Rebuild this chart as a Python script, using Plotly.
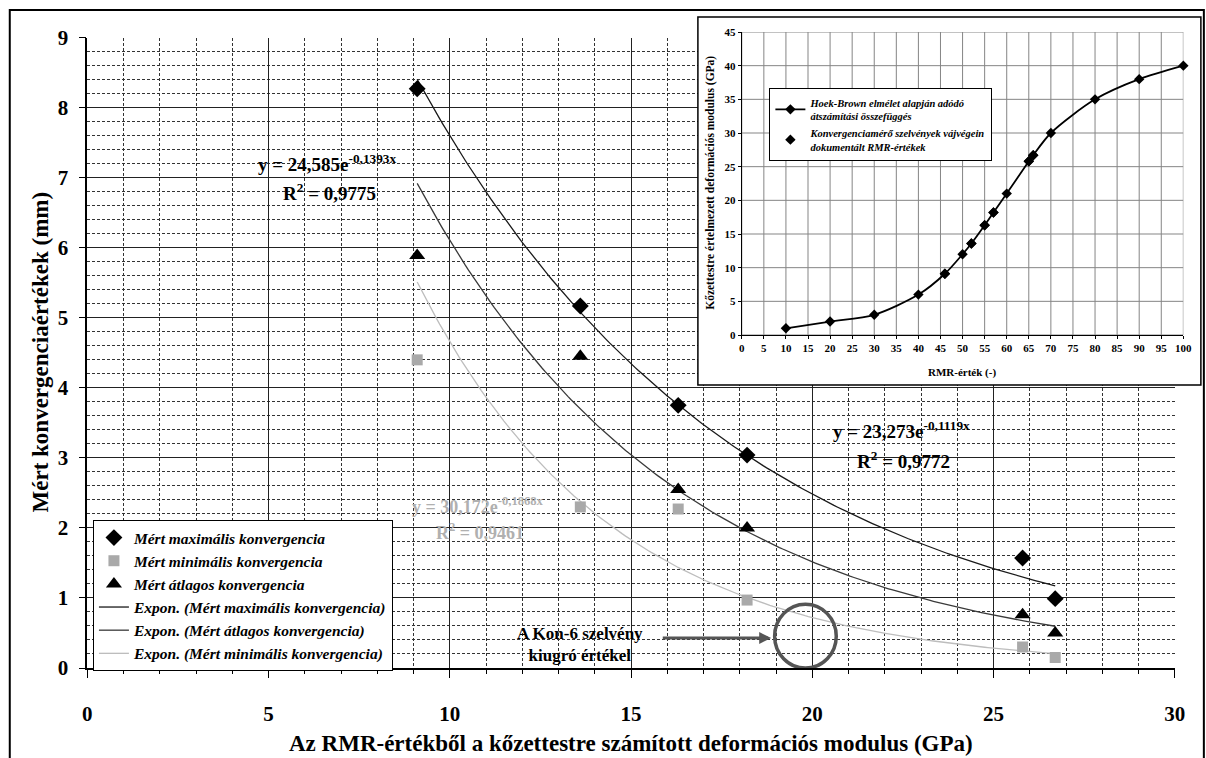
import numpy as np
import plotly.graph_objects as go

# Deformation modulus of the rock mass computed from RMR (GPa), one per section
modulus = [9.1, 13.6, 16.3, 18.2, 25.8, 26.7]
# Measured convergence values (mm)
conv_max = [8.27, 5.17, 3.75, 3.04, 1.57, 0.99]
conv_min = [4.40, 2.30, 2.27, 0.97, 0.30, 0.15]
conv_avg = [5.89, 4.45, 2.55, 2.00, 0.76, 0.50]

# Exponential trendlines y = a * exp(b * x), with R^2
fit_max = (23.273, -0.1119, 0.9772)
fit_avg = (24.585, -0.1393, 0.9775)
fit_min = (30.172, -0.1868, 0.9461)

# Inset: Hoek-Brown RMR -> deformation modulus relation
rmr_curve = [10, 20, 30, 40, 46, 50, 52, 55, 57, 60, 65, 66, 70, 80, 90, 100]
mod_curve = [1, 2, 3, 6, 9.1, 12, 13.6, 16.3, 18.2, 21, 25.8, 26.7, 30, 35, 38, 40]
rmr_meas = [46, 52, 55, 57, 65, 66]
mod_meas = modulus

SERIF = "Liberation Serif, Times New Roman, serif"
W, H = 1206, 758
ML, MR, MT, MB = 87, 6, 28, 90
PW, PH = W - ML - MR, H - MT - MB


def px(x):
    return (x - ML) / PW


def py(y):
    return (H - MB - y) / PH


# main plot area in pixels
MX0, MX1, MY0, MY1 = 87.3, 1185.7, 37.7, 668.0
# inset box and inset plot area in pixels
BX0, BX1, BY0, BY1 = 704, 1212, 17, 385
IX0, IX1, IY0, IY1 = 748.3, 1194.3, 32.0, 335.0
INSET_X = (0, 100, 5)
INSET_Y = (0, 45, 5)


def dx(p):
    return (p - MX0) / (MX1 - MX0) * 30


def dy(p):
    return (MY1 - p) / (MY1 - MY0) * 9


def eq_text(fit):
    a, b, _ = fit
    return f"y = {a:.3f}e<sup>{b:.4f}x</sup>".replace(".", ",")


def r2_text(fit):
    return f"R<sup>2</sup> = {fit[2]:.4f}".replace(".", ",")


xs = np.linspace(min(modulus), max(modulus), 200)

fig = go.Figure()

# trendlines
for fit, name, color, rank in [
    (fit_max, "Expon. (Mért maximális konvergencia)", "#1a1a1a", 4),
    (fit_avg, "Expon. (Mért átlagos konvergencia)", "#3a3a3a", 5),
    (fit_min, "Expon. (Mért minimális konvergencia)", "#bdbdbd", 6),
]:
    fig.add_trace(go.Scatter(
        x=xs, y=fit[0] * np.exp(fit[1] * xs), mode="lines", name=name,
        line=dict(color=color, width=1.3), legendrank=rank, legend="legend",
        hoverinfo="skip"))

# measured points
fig.add_trace(go.Scatter(
    x=modulus, y=conv_max, mode="markers", name="Mért maximális konvergencia",
    marker=dict(symbol="diamond", size=13, color="black"), legendrank=1))
fig.add_trace(go.Scatter(
    x=modulus, y=conv_min, mode="markers", name="Mért minimális konvergencia",
    marker=dict(symbol="square", size=11, color="#a9a9a9"), legendrank=2))
fig.add_trace(go.Scatter(
    x=modulus, y=conv_avg, mode="markers", name="Mért átlagos konvergencia",
    marker=dict(symbol="triangle-up", size=14, color="black"), legendrank=3))

# empty subplot whose white background masks the main grid behind the inset box
fig.add_trace(go.Scatter(x=[], y=[], xaxis="x2", yaxis="y2", showlegend=False,
                         hoverinfo="skip"))

# inset grid, drawn as a trace so it sits above the inset background
gx, gy = [], []
for v in np.arange(INSET_X[0], INSET_X[1] + 0.1, INSET_X[2]):
    gx += [v, v, None]
    gy += [INSET_Y[0], INSET_Y[1], None]
for h in np.arange(INSET_Y[0], INSET_Y[1] + 0.1, INSET_Y[2]):
    gx += [INSET_X[0], INSET_X[1], None]
    gy += [h, h, None]
fig.add_trace(go.Scatter(x=gx, y=gy, mode="lines", xaxis="x3", yaxis="y3",
                         line=dict(color="#858585", width=1), showlegend=False,
                         hoverinfo="skip", cliponaxis=False))

# inset traces
fig.add_trace(go.Scatter(
    x=rmr_curve, y=mod_curve, mode="lines+markers", xaxis="x3", yaxis="y3",
    name="Hoek-Brown elmélet alapján adódó<br>átszámítási összefüggés",
    line=dict(color="black", width=1.8, shape="spline", smoothing=0.8),
    marker=dict(symbol="diamond", size=8, color="black"), legend="legend2",
    cliponaxis=False))
fig.add_trace(go.Scatter(
    x=rmr_meas, y=mod_meas, mode="markers", xaxis="x3", yaxis="y3",
    name="Konvergenciamérő szelvények vájvégein<br>dokumentált RMR-értékek",
    marker=dict(symbol="diamond", size=8, color="black"), legend="legend2"))

bold = dict(family=SERIF, color="black", weight="bold")
hidden = dict(showgrid=False, showline=False, zeroline=False,
              showticklabels=False, ticks="", range=[0, 1], fixedrange=True)

fig.update_layout(
    width=W, height=H,
    margin=dict(l=ML, r=MR, t=MT, b=MB, pad=0),
    paper_bgcolor="white", plot_bgcolor="white",
    font=dict(family=SERIF, color="black"),
    showlegend=True,
    xaxis=dict(
        domain=[px(MX0), px(MX1)], range=[0, 30], dtick=5, tick0=0,
        showgrid=True, gridcolor="#222", gridwidth=1,
        showline=True, linecolor="black", linewidth=1.5,
        ticks="outside", ticklen=8, tickcolor="black", tickwidth=1.2,
        ticklabelstandoff=18,
        tickfont=dict(size=21, **bold), zeroline=False,
        minor=dict(dtick=1, showgrid=True, gridcolor="#333", griddash="3px,2px",
                   gridwidth=1, ticks="outside", ticklen=4, tickcolor="black"),
    ),
    yaxis=dict(
        domain=[py(MY1), py(MY0)], range=[0, 9], dtick=1, tick0=0,
        showgrid=True, gridcolor="#222", gridwidth=1,
        showline=True, linecolor="black", linewidth=1.5,
        ticks="outside", ticklen=7, tickcolor="black", tickwidth=1.2,
        ticklabelstandoff=6,
        tickfont=dict(size=21, **bold), zeroline=False,
        minor=dict(dtick=0.2, showgrid=True, gridcolor="#333", griddash="3px,2px",
                   gridwidth=1),
    ),
    xaxis2=dict(domain=[px(BX0), 1.0], anchor="y2", **hidden),
    yaxis2=dict(domain=[py(BY1), 1.0], anchor="x2", **hidden),
    xaxis3=dict(
        domain=[px(IX0), px(IX1)], range=[0, 100], dtick=5, tick0=0,
        anchor="y3", showgrid=False,
        showline=True, linecolor="black", linewidth=1.2,
        ticks="outside", ticklen=3, tickcolor="black",
        ticklabeloverflow="allow",
        tickfont=dict(size=11, **bold), zeroline=False,
    ),
    yaxis3=dict(
        domain=[py(IY1), py(IY0)], range=[0, 45], dtick=5, tick0=0,
        anchor="x3", showgrid=False,
        showline=True, linecolor="black", linewidth=1.2,
        ticks="outside", ticklen=3, tickcolor="black",
        ticklabeloverflow="allow",
        tickfont=dict(size=11, **bold), zeroline=False,
    ),
    legend=dict(
        x=px(93), y=py(520), xanchor="left", yanchor="top",
        bgcolor="white", bordercolor="black", borderwidth=1,
        font=dict(size=15.5, family=SERIF, color="black", weight="bold", style="italic"),
        tracegroupgap=0, itemwidth=30,
    ),
    legend2=dict(
        x=px(776), y=py(88), xanchor="left", yanchor="top",
        bgcolor="white", bordercolor="black", borderwidth=1.2,
        font=dict(size=10.5, family=SERIF, color="black", weight="bold", style="italic"),
        tracegroupgap=0, itemwidth=30,
    ),
)

shapes = [
    # inset frame
    dict(type="rect", xref="paper", yref="paper", x0=px(BX0), x1=px(BX1),
         y0=py(BY1), y1=py(BY0), line=dict(color="black", width=1.5), layer="above"),
    # outer frame
    dict(type="rect", xref="paper", yref="paper", x0=px(9), x1=px(1215),
         y0=py(765), y1=py(10), line=dict(color="black", width=2), layer="above"),
    # outlier marker circle
    dict(type="circle", xref="x", yref="y", x0=18.96, x1=20.66, y0=0.0, y1=0.91,
         line=dict(color="#555", width=3.5), layer="above"),
]
fig.update_layout(shapes=shapes)

ann = []
# axis titles
ann.append(dict(text="Az RMR-értékből a kőzettestre számított deformációs modulus (GPa)",
                xref="paper", yref="paper", x=px(636), y=py(743), showarrow=False,
                font=dict(size=23, **bold), xanchor="center", yanchor="middle"))
ann.append(dict(text="Mért konvergenciaértékek (mm)", xref="paper", yref="paper",
                x=px(40), y=py(352), textangle=-90, showarrow=False,
                font=dict(size=23, **bold), xanchor="center", yanchor="middle"))
ann.append(dict(text="RMR-érték (-)", xref="paper", yref="paper",
                x=px(971), y=py(372), showarrow=False,
                font=dict(size=11, **bold), xanchor="center", yanchor="middle"))
ann.append(dict(text="Kőzettestre értelmezett deformációs modulus (GPa)",
                xref="paper", yref="paper", x=px(716), y=py(183), textangle=-90,
                showarrow=False, font=dict(size=11.5, **bold),
                xanchor="center", yanchor="middle"))
# trendline equations
eq_font = dict(size=19, **bold)
grey_font = dict(size=18, family=SERIF, color="#b0b0b0", weight="bold")
ann += [
    dict(text=eq_text(fit_avg), x=dx(258), y=dy(163), xanchor="left", font=eq_font),
    dict(text=r2_text(fit_avg), x=dx(283), y=dy(192), xanchor="left", font=eq_font),
    dict(text=eq_text(fit_max), x=dx(838), y=dy(430), xanchor="left", font=eq_font),
    dict(text=r2_text(fit_max), x=dx(863), y=dy(460), xanchor="left", font=eq_font),
    dict(text=eq_text(fit_min), x=dx(413), y=dy(505), xanchor="left", font=grey_font),
    dict(text=r2_text(fit_min), x=dx(437), y=dy(531), xanchor="left", font=grey_font),
]
for a in ann[-6:]:
    a.update(xref="x", yref="y", showarrow=False, yanchor="middle")
# outlier note and arrow
ann.append(dict(text="A Kon-6 szelvény<br>kiugró értékel", xref="x", yref="y",
                x=dx(585), y=dy(644), showarrow=False, font=dict(size=17, **bold),
                xanchor="center", yanchor="middle"))
ann.append(dict(text="", xref="x", yref="y", axref="x", ayref="y",
                x=dx(778), y=dy(638), ax=dx(667), ay=dy(638), showarrow=True,
                arrowhead=2, arrowsize=0.8, arrowwidth=3, arrowcolor="#555"))
fig.update_layout(annotations=ann)

fig.write_html("out.html")
